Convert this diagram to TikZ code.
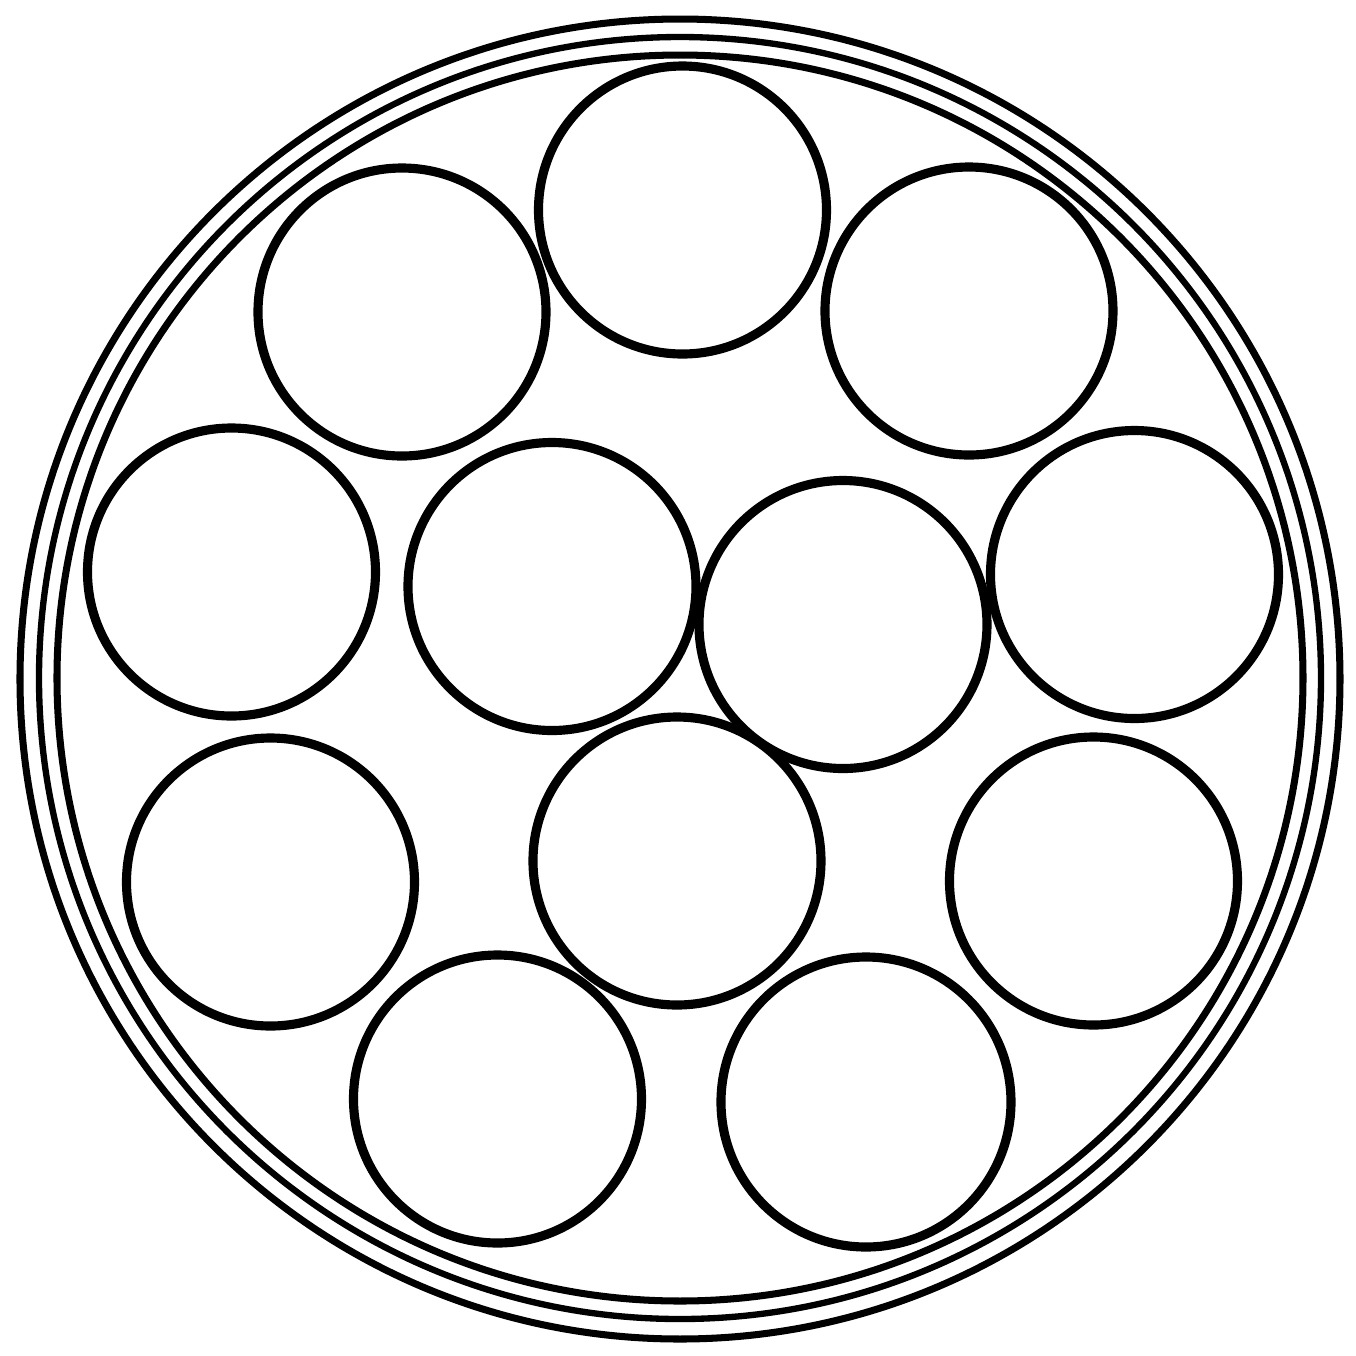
\documentclass[tikz,border=0pt]{standalone}
\begin{document}
\begin{tikzpicture}[x=0.01cm,y=-0.01cm,
  ring/.style={draw=black,line width=2pt},
  tube/.style={draw=black,line width=2.6pt}]
\useasboundingbox (0,0) rectangle (1356,1356);
\draw[ring] (680,679) circle[radius=660];
\draw[ring,line width=1.8pt] (680,678) circle[radius=641];
\draw[ring] (680,678) circle[radius=623];
\draw[tube] (682.5,210) circle[radius=144];
\draw[tube] (402,312) circle[radius=144];
\draw[tube] (969,311) circle[radius=144];
\draw[tube] (231.5,572) circle[radius=144];
\draw[tube] (552,586.5) circle[radius=144];
\draw[tube] (843,624.5) circle[radius=144];
\draw[tube] (1134.5,574.5) circle[radius=144];
\draw[tube] (270.5,882) circle[radius=144];
\draw[tube] (677,861) circle[radius=144];
\draw[tube] (1093.5,881) circle[radius=144];
\draw[tube] (497.5,1099) circle[radius=144];
\draw[tube] (866,1102) circle[radius=145];
\end{tikzpicture}
\end{document}
